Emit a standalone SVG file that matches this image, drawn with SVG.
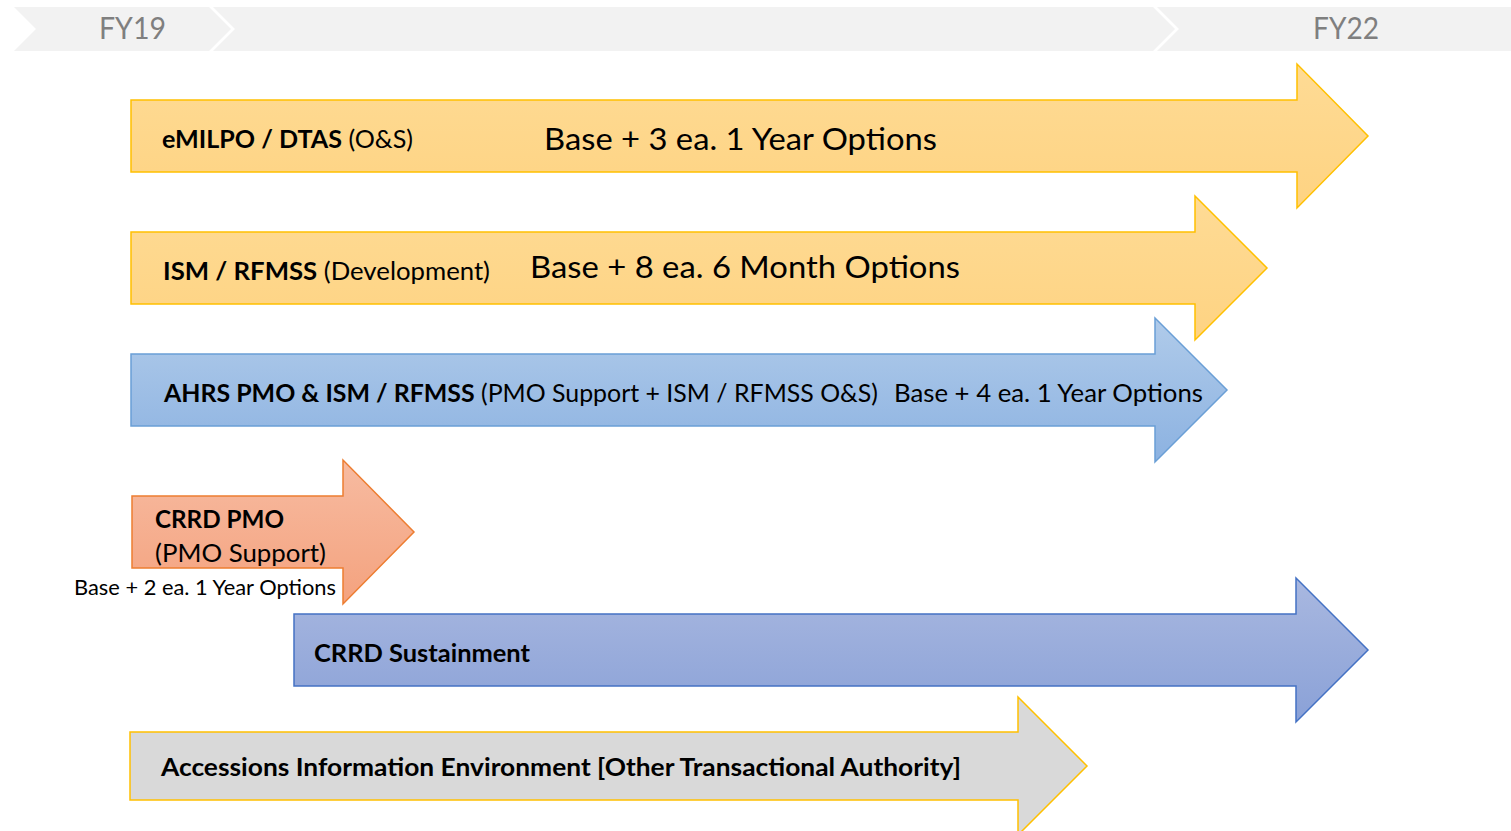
<svg xmlns="http://www.w3.org/2000/svg" width="1511" height="831" viewBox="0 0 1511 831">
<defs>
<linearGradient id="gY" x1="0" y1="0" x2="0" y2="1"><stop offset="0" stop-color="#fedb95"/><stop offset="1" stop-color="#fed382"/></linearGradient>
<linearGradient id="gB" x1="0" y1="0" x2="0" y2="1"><stop offset="0" stop-color="#b0cbea"/><stop offset="1" stop-color="#8cb2e1"/></linearGradient>
<linearGradient id="gO" x1="0" y1="0" x2="0" y2="1"><stop offset="0" stop-color="#f7bba1"/><stop offset="1" stop-color="#f4a27e"/></linearGradient>
<linearGradient id="gS" x1="0" y1="0" x2="0" y2="1"><stop offset="0" stop-color="#a9b8e0"/><stop offset="1" stop-color="#8aa1d7"/></linearGradient>
<style>
.t{font-family:Lato,"Open Sans","Liberation Sans",sans-serif;fill:#000}
.b{font-weight:bold}
.fy{font-family:Lato,"Open Sans","Liberation Sans",sans-serif;fill:#7f7f7f;font-size:30px}
.yel{fill:url(#gY);stroke:#ffc000;stroke-width:1.5}
.blu{fill:url(#gB);stroke:#6a9fd6;stroke-width:1.5}
.org{fill:url(#gO);stroke:#ed7d31;stroke-width:1.5}
.sus{fill:url(#gS);stroke:#4472c4;stroke-width:1.5}
.gry{fill:#d9d9d9;stroke:#ffc000;stroke-width:1.5}
</style>
</defs>
<rect width="1511" height="831" fill="#ffffff"/>
<g id="timeline">
<polygon points="14,7 209,7 231,29 209,51 14,51 36,29" fill="#f2f2f2"/>
<polygon points="213,7 1153,7 1175,29 1153,51 213,51 235,29" fill="#f2f2f2"/>
<polygon points="1157,7 1511,7 1511,51 1157,51 1179,29" fill="#f2f2f2"/>
<text class="fy" x="99" y="39" textLength="67" lengthAdjust="spacingAndGlyphs">FY19</text>
<text class="fy" x="1313" y="39" textLength="66" lengthAdjust="spacingAndGlyphs">FY22</text>
</g>
<g id="emilpo">
<polygon class="yel" points="131,100 1297,100 1297,64 1368,136 1297,208 1297,172 131,172"/>
<text class="t" x="162" y="148" font-size="25" textLength="251" lengthAdjust="spacingAndGlyphs"><tspan class="b">eMILPO / DTAS</tspan> (O&amp;S)</text>
<text class="t" x="544" y="150" font-size="31" textLength="393" lengthAdjust="spacingAndGlyphs">Base + 3 ea. 1 Year Options</text>
</g>
<g id="ism">
<polygon class="yel" points="131,232 1195,232 1195,196 1267,268 1195,340 1195,304 131,304"/>
<text class="t" x="163" y="280" font-size="25" textLength="327" lengthAdjust="spacingAndGlyphs"><tspan class="b">ISM / RFMSS</tspan> (Development)</text>
<text class="t" x="530" y="278" font-size="31" textLength="430" lengthAdjust="spacingAndGlyphs">Base + 8 ea. 6 Month Options</text>
</g>
<g id="ahrs">
<polygon class="blu" points="131,354 1155,354 1155,318 1227,390 1155,462 1155,426 131,426"/>
<text class="t" x="164" y="402" font-size="25" textLength="714" lengthAdjust="spacingAndGlyphs"><tspan class="b">AHRS PMO &amp; ISM / RFMSS</tspan> (PMO Support + ISM / RFMSS O&amp;S)</text>
<text class="t" x="894" y="402" font-size="25" textLength="309" lengthAdjust="spacingAndGlyphs">Base + 4 ea. 1 Year Options</text>
</g>
<g id="crrdpmo">
<polygon class="org" points="132,496 343,496 343,460 414,532 343,604 343,568 132,568"/>
<text class="t b" x="155" y="528" font-size="25" textLength="129" lengthAdjust="spacingAndGlyphs">CRRD PMO</text>
<text class="t" x="155" y="562" font-size="25" textLength="171" lengthAdjust="spacingAndGlyphs">(PMO Support)</text>
<text class="t" x="74" y="595" font-size="21" textLength="262" lengthAdjust="spacingAndGlyphs">Base + 2 ea. 1 Year Options</text>
</g>
<g id="crrdsus">
<polygon class="sus" points="294,614 1296,614 1296,578 1368,650 1296,722 1296,686 294,686"/>
<text class="t b" x="314" y="662" font-size="25" textLength="216" lengthAdjust="spacingAndGlyphs">CRRD Sustainment</text>
</g>
<g id="aie">
<polygon class="gry" points="130,732 1018,732 1018,697 1087,766 1018,835 1018,800 130,800"/>
<text class="t b" x="161" y="776" font-size="25" textLength="800" lengthAdjust="spacingAndGlyphs">Accessions Information Environment [Other Transactional Authority]</text>
</g>
<g id="connectors"/>
</svg>
